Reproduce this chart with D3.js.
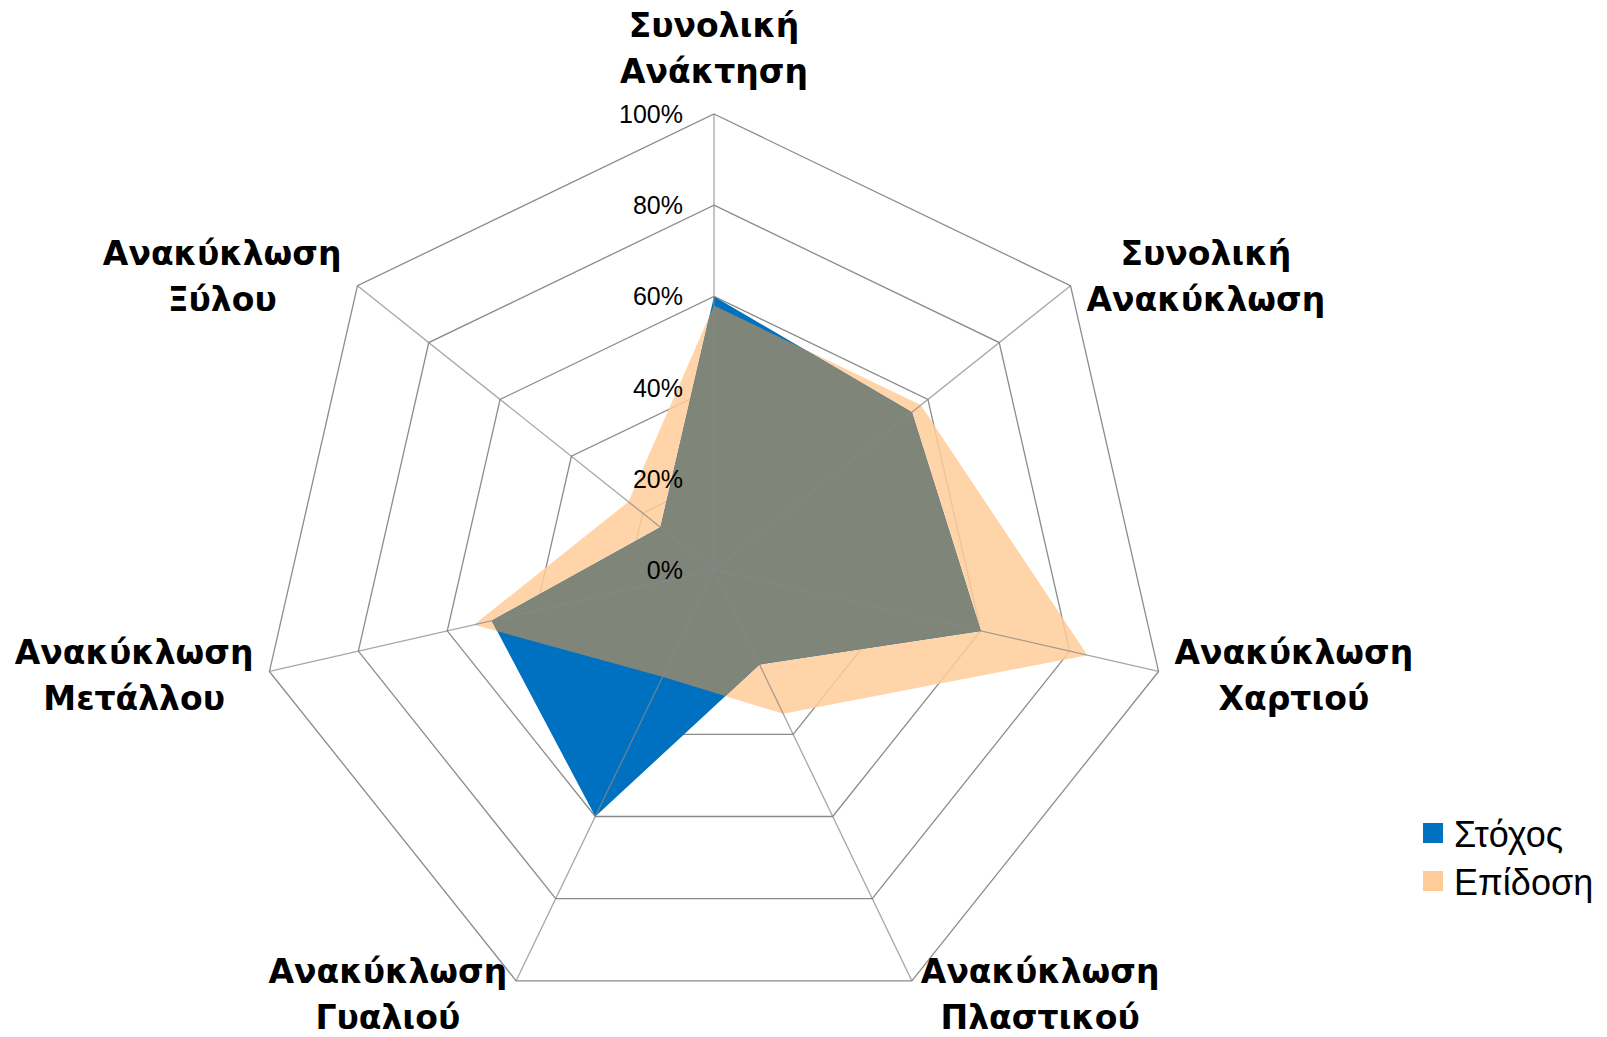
<!DOCTYPE html>
<html>
<head>
<meta charset="utf-8">
<script src="https://cdn.jsdelivr.net/npm/d3@7"></script>
<style>
  body { margin:0; background:#fff; }
  svg { display:block; }
</style>
</head>
<body>
<script>
var width = 1607, height = 1037;
var cx = 714, cy = 570, radius = 456;

// categories (two lines each)
var categories = [
    ["Συνολική", "Ανάκτηση"],
    ["Συνολική", "Ανακύκλωση"],
    ["Ανακύκλωση", "Χαρτιού"],
    ["Ανακύκλωση", "Πλαστικού"],
    ["Ανακύκλωση", "Γυαλιού"],
    ["Ανακύκλωση", "Μετάλλου"],
    ["Ανακύκλωση", "Ξύλου"]
];
var stoxos   = [0.60, 0.555, 0.60, 0.23, 0.60, 0.50, 0.15];
var epidosi  = [0.58, 0.58, 0.84, 0.35, 0.26, 0.54, 0.24];
var ticks = [0, 0.2, 0.4, 0.6, 0.8, 1.0];
var seriesNames = ["Στόχος", "Επίδοση"];
var seriesColors = ["#0070c0", "#ffcc99"];

var rScale = d3.scaleLinear().domain([0, 1]).range([0, radius]);
var angle = d3.scaleLinear().domain([0, categories.length]).range([0, 2 * Math.PI]);

function pt(i, v) {
    var a = angle(i);
    return [cx + rScale(v) * Math.sin(a), cy - rScale(v) * Math.cos(a)];
}
function poly(vals) {
    return vals.map(function(v, i){ return pt(i, v).join(","); }).join(" ");
}

var svg = d3.select("body").append("svg")
    .attr("width", width)
    .attr("height", height);

var defs = svg.append("defs");
defs.append("clipPath").attr("id", "clipEpidosi")
    .append("polygon").attr("points", poly(epidosi));

// rings (under the areas)
var grid = svg.append("g")
    .style("fill", "none")
    .style("stroke", "#777")
    .style("stroke-opacity", 0.85)
    .style("stroke-width", 1.3);

grid.selectAll(".ring")
    .data(ticks.slice(1))
    .enter().append("polygon")
    .attr("class", "ring")
    .attr("points", function(t){ return poly(categories.map(function(){ return t; })); });

// series areas
svg.append("polygon")
    .attr("points", poly(epidosi))
    .style("fill", seriesColors[1])
    .style("fill-opacity", 0.85);
svg.append("polygon")
    .attr("points", poly(stoxos))
    .style("fill", seriesColors[0]);
// overlap
svg.append("polygon")
    .attr("points", poly(stoxos))
    .attr("clip-path", "url(#clipEpidosi)")
    .style("fill", "#7f8578");

// spokes (over the areas)
svg.append("g")
    .style("stroke", "#888")
    .style("stroke-opacity", 0.75)
    .style("stroke-width", 1.3)
    .selectAll(".spoke")
    .data(categories)
    .enter().append("line")
    .attr("class", "spoke")
    .attr("x1", cx).attr("y1", cy)
    .attr("x2", function(d, i){ return pt(i, 1)[0]; })
    .attr("y2", function(d, i){ return pt(i, 1)[1]; });

// tick labels
svg.selectAll(".tick")
    .data(ticks)
    .enter().append("text")
    .attr("class", "tick")
    .attr("x", cx - 31)
    .attr("y", function(t){ return cy - rScale(t); })
    .attr("dy", "0.36em")
    .attr("text-anchor", "end")
    .style("font-family", "'Liberation Sans', Arial, sans-serif")
    .style("font-size", "25px")
    .text(function(t){ return d3.format(".0%")(t); });

// category labels
var lineH = 46;
var labels = svg.selectAll(".cat")
    .data(categories)
    .enter().append("text")
    .attr("class", "cat")
    .attr("text-anchor", "middle")
    .style("font-family", "'DejaVu Sans', Verdana, sans-serif")
    .style("font-weight", "bold")
    .style("font-size", "33px");

labels.each(function(d, i){
    var t = d3.select(this);
    d.forEach(function(line, k){
        t.append("tspan").attr("x", 0).attr("dy", k === 0 ? 0 : lineH).text(line);
    });
    var w = this.getBBox().width;
    var v = pt(i, 1);
    var a = angle(i);
    var s = Math.sin(a), c = Math.cos(a);
    var x, yMid;
    if (Math.abs(s) < 0.1) {
        x = v[0];
        yMid = v[1] - 66;
    } else {
        var gap = Math.abs(c) > 0.8 ? 9 : 16;
        x = v[0] + (s > 0 ? 1 : -1) * (gap + w / 2);
        yMid = v[1] - 15 * c;
    }
    // first baseline so that the two-line block is centred on yMid
    var y0 = yMid - lineH / 2 + 12;
    t.attr("transform", "translate(" + x + "," + y0 + ")");
});

// legend
var legend = svg.append("g").attr("transform", "translate(1423,823)");
var items = legend.selectAll("g")
    .data(seriesNames)
    .enter().append("g")
    .attr("transform", function(d, i){ return "translate(0," + (i * 48) + ")"; });
items.append("rect")
    .attr("width", 20).attr("height", 20)
    .style("fill", function(d, i){ return seriesColors[i]; });
items.append("text")
    .attr("x", 31).attr("y", 24)
    .style("font-family", "'Liberation Sans', Arial, sans-serif")
    .style("font-size", "36px")
    .text(function(d){ return d; });
</script>
</body>
</html>
